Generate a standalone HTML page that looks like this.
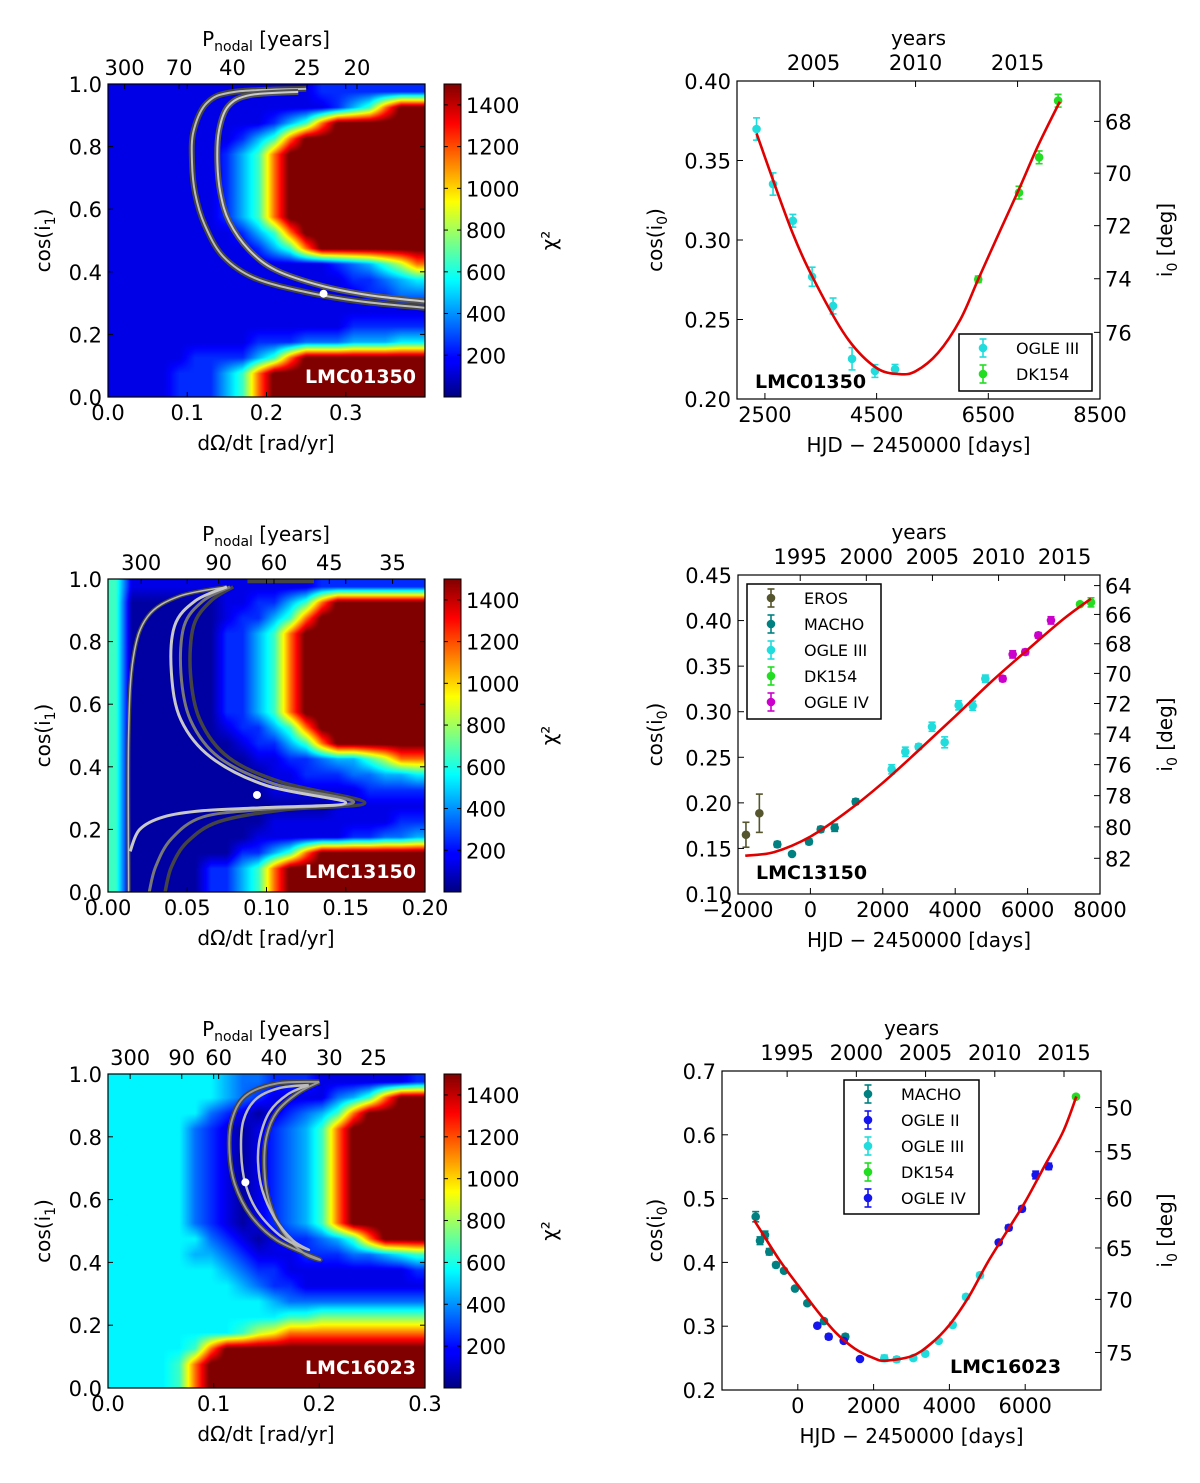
<!DOCTYPE html>
<html><head><meta charset="utf-8">
<style>
html,body{margin:0;padding:0;background:#fff;}
#wrap{position:relative;width:1200px;height:1483px;}
canvas{position:absolute;}
svg{position:absolute;left:0;top:0;display:block;font-family:"DejaVu Sans","Liberation Sans",sans-serif;}
</style></head>
<body>
<div id="wrap">
<svg id="fig" xmlns="http://www.w3.org/2000/svg" width="1200" height="1483" viewBox="0 0 1200 1483">
<defs>
<linearGradient id="jetgrad" x1="0" y1="1" x2="0" y2="0">
<stop offset="0" stop-color="#000080"/><stop offset="0.11" stop-color="#0000ff"/><stop offset="0.125" stop-color="#0000ff"/><stop offset="0.34" stop-color="#00dcff"/><stop offset="0.375" stop-color="#00ffff"/><stop offset="0.5" stop-color="#80ff80"/><stop offset="0.625" stop-color="#ffff00"/><stop offset="0.66" stop-color="#ffdc00"/><stop offset="0.875" stop-color="#ff0000"/><stop offset="1" stop-color="#800000"/>
</linearGradient>
</defs>
</svg>
</div>
<script>
// ---------- heatmap data (chi^2 in units of 100, hex digits; rows top->bottom) ----------
const hm1Rows = [
"11111111111112222222","11111111111111246bff","1111111111246bffffff","11111111246bffffffff",
"1111111246bfffffffff","1111111246bfffffffff","1111111246bfffffffff","1111111246bfffffffff",
"1111111246bfffffffff","11111111246bffffffff","111111111246bfffffff","1111111111111123468b",
"11111111111111122345","11111111111111112233","11111111111111111111","11111111111111122222",
"11111111122233344455","11111222246bffffffff","111122246bffffffffff","111122246bffffffffff"];
const hm2Rows = [
"61111111111112222222","6000000112246bffffff","600000012246bfffffff","60000002246bffffffff",
"60000002246bffffffff","60000002246bffffffff","60000002246bffffffff","60000002246bffffffff",
"60000002246bffffffff","600000012246bfffffff","6000000012246bffffff","600000000112234468bb",
"60000000001122233445","60000000001111112222","60000000000000111111","60000000001111111122",
"60000000011111122334","600000002246bfffffff","6000002246bfffffffff","6000002246bfffffffff"];
const hm3Rows = [
"55555554332221111112","55555554321111346bff","555555321012346bffff","55555321012346bfffff",
"55555321012346bfffff","55555321012346bfffff","55555321012346bfffff","55555321012346bfffff",
"55555321012346bfffff","55555321012346bfffff","5555553210122346bfff","55555443211122233456",
"55555554322111111112","55555555432211111111","55555555554333333333","55555555555667777777",
"55555555689bbbbbbbbb","555556bfffffffffffff","55556bffffffffffffff","55556bffffffffffffff"];
// contour lines [dOmega/dt, cos(i1)]
const c1Outer = [[0.25,0.985],[0.16,0.975],[0.125,0.94],[0.108,0.85],[0.106,0.75],[0.11,0.65],[0.122,0.55],[0.145,0.45],[0.185,0.38],[0.25,0.335],[0.32,0.305],[0.4,0.285]];
const c1Inner = [[0.24,0.975],[0.18,0.965],[0.152,0.93],[0.14,0.85],[0.138,0.75],[0.142,0.65],[0.153,0.56],[0.178,0.47],[0.212,0.405],[0.27,0.355],[0.33,0.325],[0.4,0.305]];
const c2Left = [[0.013,0],[0.013,0.5],[0.016,0.75],[0.025,0.88],[0.045,0.945],[0.075,0.975]];
const c2A = [[0.075,0.975],[0.055,0.93],[0.042,0.85],[0.04,0.7],[0.046,0.55],[0.065,0.43],[0.1,0.34],[0.15,0.285],[0.1,0.27],[0.06,0.26],[0.035,0.24],[0.02,0.2],[0.014,0.13]];
const c2B = [[0.077,0.975],[0.06,0.93],[0.048,0.85],[0.046,0.7],[0.052,0.55],[0.07,0.43],[0.105,0.345],[0.155,0.287],[0.1,0.265],[0.06,0.24],[0.04,0.17],[0.03,0.08],[0.026,0]];
const c2C = [[0.079,0.975],[0.065,0.93],[0.054,0.85],[0.052,0.7],[0.058,0.55],[0.076,0.43],[0.11,0.35],[0.162,0.285],[0.11,0.262],[0.07,0.225],[0.05,0.16],[0.04,0.08],[0.036,0]];
const c2Top = [[0.088,0.993],[0.13,0.993]];
const c3Outer = [[0.2,0.975],[0.16,0.97],[0.13,0.93],[0.117,0.85],[0.115,0.75],[0.12,0.65],[0.135,0.55],[0.16,0.47],[0.2,0.41],[0.185,0.43],[0.165,0.5],[0.152,0.6],[0.148,0.7],[0.15,0.8],[0.16,0.88],[0.18,0.94],[0.2,0.975]];
const c3Inner = [[0.19,0.965],[0.162,0.955],[0.14,0.92],[0.128,0.85],[0.126,0.75],[0.13,0.65],[0.142,0.56],[0.165,0.48],[0.19,0.44],[0.175,0.47],[0.158,0.54],[0.146,0.63],[0.142,0.72],[0.144,0.8],[0.153,0.88],[0.17,0.935],[0.19,0.965]];
const bestFit = [[0.272,0.33],[0.094,0.31],[0.13,0.655]];
// ---------- light curve data [HJD-2450000, cos(i0), err] ----------
const p1Ogle3 = [[2350,0.3698,0.007],[2645,0.3352,0.007],[3000,0.3121,0.004],[3345,0.2769,0.006],[3720,0.2585,0.005],[4060,0.2253,0.007],[4470,0.2176,0.004],[4830,0.2187,0.003]];
const p1Dk154 = [[6320,0.2753,0.002],[7050,0.3298,0.004],[7410,0.352,0.004],[7750,0.3876,0.004]];
const p1Model = [[2350,0.367],[3000,0.304],[3500,0.2667],[4000,0.237],[4500,0.2195],[4900,0.2157],[5200,0.2175],[5600,0.229],[6000,0.25],[6320,0.2753],[6700,0.305],[7050,0.332],[7400,0.36],[7780,0.387]];
const p2Eros = [[-1780,0.165,0.0137],[-1410,0.1886,0.021]];
const p2Macho = [[-914,0.1545,0.003],[-508,0.1439,0.002],[-39,0.1574,0.003],[285,0.171,0.003],[671,0.1727,0.004],[1251,0.2013,0.003]];
const p2Ogle3 = [[2245,0.2368,0.005],[2622,0.2561,0.005],[2990,0.2616,0.003],[3359,0.2835,0.005],[3709,0.2664,0.006],[4096,0.307,0.005],[4483,0.3066,0.005],[4833,0.3362,0.004]];
const p2Ogle4 = [[5312,0.3362,0.003],[5588,0.3629,0.004],[5936,0.3655,0.003],[6296,0.3838,0.003],[6646,0.4002,0.004]];
const p2Dk154 = [[7448,0.418,0.002],[7751,0.42,0.005]];
const p2Model = [[-1800,0.142],[-1000,0.146],[0,0.163],[1000,0.19],[2000,0.222],[3000,0.258],[4000,0.295],[5000,0.333],[6000,0.368],[7000,0.402],[7750,0.424]];
const p3Macho = [[-1111,0.4716,0.008],[-997,0.434,0.006],[-865,0.443,0.006],[-752,0.4167,0.005],[-575,0.396,0.004],[-364,0.387,0.003],[-74,0.359,0.003],[250,0.336,0.003],[691,0.308,0.003],[1253,0.2835,0.004]];
const p3Ogle2 = [[515,0.3008,0.002],[815,0.2835,0.004],[1211,0.277,0.003],[1641,0.2486,0.002]];
const p3Ogle3 = [[2282,0.2497,0.005],[2609,0.248,0.004],[3047,0.25,0.003],[3364,0.2569,0.003],[3717,0.277,0.003],[4087,0.3019,0.004],[4438,0.346,0.004],[4807,0.38,0.004]];
const p3Ogle4 = [[5301,0.4314,0.003],[5565,0.4543,0.004],[5916,0.484,0.004],[6277,0.537,0.006],[6620,0.5505,0.005]];
const p3Dk154 = [[7340,0.6597,0.003]];
const p3Model = [[-1150,0.466],[-500,0.405],[0,0.3645],[500,0.325],[1000,0.29],[1500,0.265],[2000,0.25],[2300,0.246],[3000,0.253],[3500,0.272],[4000,0.302],[4500,0.345],[5000,0.399],[5500,0.447],[6000,0.495],[6500,0.55],[7000,0.605],[7350,0.66]];
// ---------- tick labels ----------
const hm1XTicks = ["0.0","0.1","0.2","0.3"];
const hm2XTicks = ["0.00","0.05","0.10","0.15","0.20"];
const hm3XTicks = ["0.0","0.1","0.2","0.3"];
const hmYTicks = ["0.0","0.2","0.4","0.6","0.8","1.0"];
const hm1Periods = [300,70,40,25,20];
const hm2Periods = [300,90,60,45,35];
const hm3Periods = [300,90,60,40,30,25];
const cbTicks = [200,400,600,800,1000,1200,1400];
const p1XTicks = [2500,4500,6500,8500];
const p2XTicks = [-2000,0,2000,4000,6000,8000];
const p3XTicks = [0,2000,4000,6000];
const p1YTicks = ["0.20","0.25","0.30","0.35","0.40"];
const p2YTicks = ["0.10","0.15","0.20","0.25","0.30","0.35","0.40","0.45"];
const p3YTicks = ["0.2","0.3","0.4","0.5","0.6","0.7"];
const p1Deg = [68,70,72,74,76];
const p2Deg = [64,66,68,70,72,74,76,78,80,82];
const p3Deg = [50,55,60,65,70,75];
const p1Years = [2005,2010,2015];
const p23Years = [1995,2000,2005,2010,2015];

const NS="http://www.w3.org/2000/svg";
const svg=document.getElementById('fig');
const wrap=document.getElementById('wrap');
function mk(tag,parent){const e=document.createElementNS(NS,tag);parent.appendChild(e);return e;}
function jetArr(t){t=Math.max(0,Math.min(1,t));const c=v=>Math.round(255*Math.max(0,Math.min(1,v)));
 return [c(1.5-Math.abs(4*t-3)),c(1.5-Math.abs(4*t-2)),c(1.5-Math.abs(4*t-1))];}
function text(parent,x,y,s,size,anchor,name,weight,fill){
 const t=mk('text',parent);t.setAttribute('x',x);t.setAttribute('y',y);t.setAttribute('font-size',size);
 t.setAttribute('text-anchor',anchor||'middle');if(weight)t.setAttribute('font-weight',weight);
 t.setAttribute('fill',fill||'#000');t.textContent=s;
 
 
 return t;}
function line(parent,x1,y1,x2,y2,w,col){const l=mk('line',parent);l.setAttribute('x1',x1);l.setAttribute('y1',y1);l.setAttribute('x2',x2);l.setAttribute('y2',y2);l.setAttribute('stroke',col||'#000');l.setAttribute('stroke-width',w||1);return l;}
function smoothPath(pts){let d=`M${pts[0][0]},${pts[0][1]}`;
 for(let i=0;i<pts.length-1;i++){const p0=pts[Math.max(0,i-1)],p1=pts[i],p2=pts[i+1],p3=pts[Math.min(pts.length-1,i+2)];
  const c1=[p1[0]+(p2[0]-p0[0])/6,p1[1]+(p2[1]-p0[1])/6],c2=[p2[0]-(p3[0]-p1[0])/6,p2[1]-(p3[1]-p1[1])/6];
  d+=` C${c1[0]},${c1[1]} ${c2[0]},${c2[1]} ${p2[0]},${p2[1]}`;}return d;}
function subLabel(parent,x,y,pre,sub,post,size,name,rot){
 const t=mk('text',parent);t.setAttribute('x',x);t.setAttribute('y',y);t.setAttribute('font-size',size);t.setAttribute('text-anchor','middle');
 if(rot)t.setAttribute('transform',`rotate(-90 ${x} ${y})`);
 t.appendChild(document.createTextNode(pre));
 const s=mk('tspan',t);s.setAttribute('font-size',size*0.7);s.setAttribute('dy',size*0.25);s.textContent=sub;
 const s2=mk('tspan',t);s2.setAttribute('dy',-size*0.25);s2.textContent=post;
 
 
 return t;}

// ---------- heatmap panels ----------
function heatmap(idx,cfg){
 const g=mk('g',svg);
 
 
 const L=108,R=425,T=cfg.top,B=cfg.bottom,W=R-L,H=B-T;
 const sx=v=>L+v/cfg.xmax*W, sy=v=>B-v*H;
 const cv=document.createElement('canvas');
 
 
 cv.width=W;cv.height=H;cv.style.left=L+'px';cv.style.top=T+'px';
 wrap.insertBefore(cv,svg);
 const ctx=cv.getContext('2d');const img=ctx.createImageData(W,H);
 const rows=cfg.rows,nr=rows.length,nc=rows[0].length;
 const val=(r,c)=>parseInt(rows[Math.max(0,Math.min(nr-1,r))][Math.max(0,Math.min(nc-1,c))],16)*100+50;
 for(let py=0;py<H;py++){const v=(py+0.5)/H*nr-0.5,r0=Math.floor(v),fr=v-r0;
  for(let px=0;px<W;px++){const u=(px+0.5)/W*nc-0.5,c0=Math.floor(u),fc=u-c0;
   const z=(val(r0,c0)*(1-fc)+val(r0,c0+1)*fc)*(1-fr)+(val(r0+1,c0)*(1-fc)+val(r0+1,c0+1)*fc)*fr;
   const col=jetArr(z/1500),o=(py*W+px)*4;img.data[o]=col[0];img.data[o+1]=col[1];img.data[o+2]=col[2];img.data[o+3]=255;}}
 ctx.putImageData(img,0,0);
 const cp=mk('clipPath',svg.querySelector('defs'));cp.setAttribute('id','hmclip'+idx);
 const cr=mk('rect',cp);cr.setAttribute('x',L);cr.setAttribute('y',T);cr.setAttribute('width',W);cr.setAttribute('height',H);
 const outer=mk('g',g);outer.setAttribute('clip-path',`url(#hmclip${idx})`);
 cfg.contours.forEach(cn=>{
  const p=mk('path',outer);p.setAttribute('d',smoothPath(cn.pts.map(q=>[sx(q[0]),sy(q[1])])));
  p.setAttribute('fill','none');p.setAttribute('stroke',cn.col);p.setAttribute('stroke-width',cn.w);p.setAttribute('stroke-linejoin','round');
  
  
 });
 const dot=mk('circle',outer);dot.setAttribute('cx',sx(cfg.dot[0]));dot.setAttribute('cy',sy(cfg.dot[1]));dot.setAttribute('r',4);dot.setAttribute('fill','#fff');
 
 
 text(g,R-9,B-14,cfg.name,19,'end','heatmap-star-label','bold','#fff');
 const fr=mk('rect',g);fr.setAttribute('x',L);fr.setAttribute('y',T);fr.setAttribute('width',W);fr.setAttribute('height',H);fr.setAttribute('fill','none');fr.setAttribute('stroke','#000');fr.setAttribute('stroke-width',1.2);
 
 
 cfg.xticks.forEach(s=>{const x=sx(parseFloat(s));line(g,x,B,x,B-5);line(g,x,T,x,T+5);text(g,x,B+23,s,21,'middle','x-tick-label');});
 hmYTicks.forEach(s=>{const y=sy(parseFloat(s));line(g,L,y,L+5,y);line(g,R,y,R-5,y);text(g,L-6,y+8,s,21,'end','y-tick-label');});
 cfg.periods.forEach(P=>{const x=sx(2*Math.PI/P);line(g,x,T,x,T+5);text(g,x,T-9,String(P),21,'middle','top-period-tick-label');});
 subLabel(g,266,T-38,'P','nodal',' [years]',20,'top-axis-title');
 text(g,266,B+53,'dΩ/dt [rad/yr]',20,'middle','x-axis-title');
 subLabel(g,50,(T+B)/2,'cos(i','1',')',20,'y-axis-title',true);
 const cb=mk('rect',g);cb.setAttribute('x',444);cb.setAttribute('y',T);cb.setAttribute('width',17);cb.setAttribute('height',H);cb.setAttribute('fill','url(#jetgrad)');cb.setAttribute('stroke','#000');
 
 
 cbTicks.forEach(v=>{const y=B-v/1500*H;line(g,444,y,448,y);line(g,461,y,457,y);text(g,466,y+8,String(v),21,'start','colorbar-tick-label');});
 const cl=mk('text',g);cl.setAttribute('x',556);cl.setAttribute('y',(T+B)/2);cl.setAttribute('font-size',20);cl.setAttribute('text-anchor','middle');
 cl.setAttribute('transform',`rotate(-90 556 ${(T+B)/2})`);cl.textContent='χ²';
 
 
}
heatmap(1,{top:84,bottom:397,xmax:0.4,rows:hm1Rows,xticks:hm1XTicks,periods:hm1Periods,name:'LMC01350',dot:bestFit[0],
 contours:[{pts:c1Outer,col:'#444',w:6},{pts:c1Outer,col:'#bbb',w:2},{pts:c1Inner,col:'#555',w:6},{pts:c1Inner,col:'#ccc',w:2}]});
heatmap(2,{top:579,bottom:892,xmax:0.2,rows:hm2Rows,xticks:hm2XTicks,periods:hm2Periods,name:'LMC13150',dot:bestFit[1],
 contours:[{pts:c2Left,col:'#444',w:4},{pts:c2Left,col:'#bbb',w:1.5},{pts:c2C,col:'#444',w:3.5},{pts:c2B,col:'#777',w:3},{pts:c2A,col:'#c8c8c8',w:3},{pts:c2Top,col:'#444',w:4}]});
heatmap(3,{top:1074,bottom:1388,xmax:0.3,rows:hm3Rows,xticks:hm3XTicks,periods:hm3Periods,name:'LMC16023',dot:bestFit[2],
 contours:[{pts:c3Outer,col:'#444',w:5},{pts:c3Outer,col:'#999',w:2},{pts:c3Inner,col:'#bbb',w:2.5}]});

// ---------- light curve panels ----------
function lcPanel(idx,cfg){
 const g=mk('g',svg);
 
 
 const {L,R,T,B,x0,x1,y0,y1}=cfg;
 const sx=v=>L+(v-x0)/(x1-x0)*(R-L), sy=v=>B-(v-y0)/(y1-y0)*(B-T);
 const cp=mk('clipPath',svg.querySelector('defs'));cp.setAttribute('id','lcclip'+idx);
 const cr=mk('rect',cp);cr.setAttribute('x',L);cr.setAttribute('y',T);cr.setAttribute('width',R-L);cr.setAttribute('height',B-T);
 const fr=mk('rect',g);fr.setAttribute('x',L);fr.setAttribute('y',T);fr.setAttribute('width',R-L);fr.setAttribute('height',B-T);fr.setAttribute('fill','#fff');fr.setAttribute('stroke','#000');fr.setAttribute('stroke-width',1.2);
 
 
 const inner=mk('g',g);inner.setAttribute('clip-path',`url(#lcclip${idx})`);
 cfg.series.forEach(s=>{
  const sg=mk('g',inner);
  
  
  s.data.forEach(d=>{
   const x=sx(d[0]),ya=sy(d[1]-d[2]),yb=sy(d[1]+d[2]);
   line(sg,x,ya,x,yb,1.6,s.col);line(sg,x-3.5,ya,x+3.5,ya,1.6,s.col);line(sg,x-3.5,yb,x+3.5,yb,1.6,s.col);
   const c=mk('circle',sg);c.setAttribute('cx',x);c.setAttribute('cy',sy(d[1]));c.setAttribute('r',4.3);c.setAttribute('fill',s.col);
   
   
  });
 });
 const mp=mk('path',inner);mp.setAttribute('d',smoothPath(cfg.model.map(q=>[sx(q[0]),sy(q[1])])));
 mp.setAttribute('fill','none');mp.setAttribute('stroke','#e00000');mp.setAttribute('stroke-width',2.6);
 
 
 cfg.xticks.forEach(v=>{const x=sx(v);line(g,x,B,x,B-6);text(g,x,B+23,v<0?'−'+Math.abs(v):String(v),21,'middle','x-tick-label');});
 cfg.yticks.forEach(s=>{const y=sy(parseFloat(s));line(g,L,y,L+6,y);text(g,L-6,y+8,s,21,'end','y-tick-label');});
 cfg.deg.forEach(dg=>{const y=sy(Math.cos(dg*Math.PI/180));line(g,R,y,R-6,y);text(g,R+5,y+8,String(dg),21,'start','right-tick-label');});
 cfg.years.forEach(yr=>{const x=sx((yr-1995.77)*365.25);line(g,x,T,x,T+6);text(g,x,T-11,String(yr),21,'middle','top-year-tick-label');});
 text(g,(L+R)/2,T-36,'years',20,'middle','top-axis-title');
 text(g,(L+R)/2,B+53,'HJD − 2450000 [days]',20,'middle','x-axis-title');
 subLabel(g,cfg.ylx,(T+B)/2,'cos(i','0',')',20,'y-axis-title',true);
 subLabel(g,1172,(T+B)/2,'i','0',' [deg]',20,'right-axis-title',true);
 text(g,cfg.nameX,cfg.nameY,cfg.name,19,'start','star-label','bold');
 const lg=mk('g',g);
 
 
 const lb=mk('rect',lg);lb.setAttribute('x',cfg.leg[0]);lb.setAttribute('y',cfg.leg[1]);lb.setAttribute('width',cfg.leg[2]);lb.setAttribute('height',cfg.leg[3]);lb.setAttribute('fill','#fff');lb.setAttribute('stroke','#000');lb.setAttribute('stroke-width',1.5);
 cfg.series.forEach((s,i)=>{
  const y=cfg.leg[1]+14+i*26,x=cfg.leg[0]+24;
  const eg=mk('g',lg);
  
  
  line(eg,x,y-9,x,y+9,1.6,s.col);line(eg,x-3.5,y-9,x+3.5,y-9,1.6,s.col);line(eg,x-3.5,y+9,x+3.5,y+9,1.6,s.col);
  const c=mk('circle',eg);c.setAttribute('cx',x);c.setAttribute('cy',y);c.setAttribute('r',4.3);c.setAttribute('fill',s.col);
  text(eg,x+33,y+6,s.label,16,'start','legend-label');
 });
}
const CY='#20dcdc',GR='#22dd22',TE='#008080',MA='#cc00cc',BL='#1515ee',OL='#55552e';
lcPanel(1,{L:737,R:1100,T:81,B:399,x0:2000,x1:8500,y0:0.2,y1:0.4,xticks:p1XTicks,yticks:p1YTicks,deg:p1Deg,years:p1Years,ylx:662,
 model:p1Model,name:'LMC01350',nameX:755,nameY:388,leg:[959,334,133,57],
 series:[{label:'OGLE III',col:CY,data:p1Ogle3},{label:'DK154',col:GR,data:p1Dk154}]});
lcPanel(2,{L:738,R:1100,T:575,B:894,x0:-2000,x1:8000,y0:0.1,y1:0.45,xticks:p2XTicks,yticks:p2YTicks,deg:p2Deg,years:p23Years,ylx:662,
 model:p2Model,name:'LMC13150',nameX:756,nameY:879,leg:[747,584,134,135],
 series:[{label:'EROS',col:OL,data:p2Eros},{label:'MACHO',col:TE,data:p2Macho},{label:'OGLE III',col:CY,data:p2Ogle3},{label:'DK154',col:GR,data:p2Dk154},{label:'OGLE IV',col:MA,data:p2Ogle4}]});
lcPanel(3,{L:722,R:1101,T:1071,B:1390,x0:-2000,x1:8000,y0:0.2,y1:0.7,xticks:p3XTicks,yticks:p3YTicks,deg:p3Deg,years:p23Years,ylx:662,
 model:p3Model,name:'LMC16023',nameX:950,nameY:1373,leg:[844,1080,135,134],
 series:[{label:'MACHO',col:TE,data:p3Macho},{label:'OGLE II',col:BL,data:p3Ogle2},{label:'OGLE III',col:CY,data:p3Ogle3},{label:'DK154',col:GR,data:p3Dk154},{label:'OGLE IV',col:BL,data:p3Ogle4}]});
</script>
</body></html>
